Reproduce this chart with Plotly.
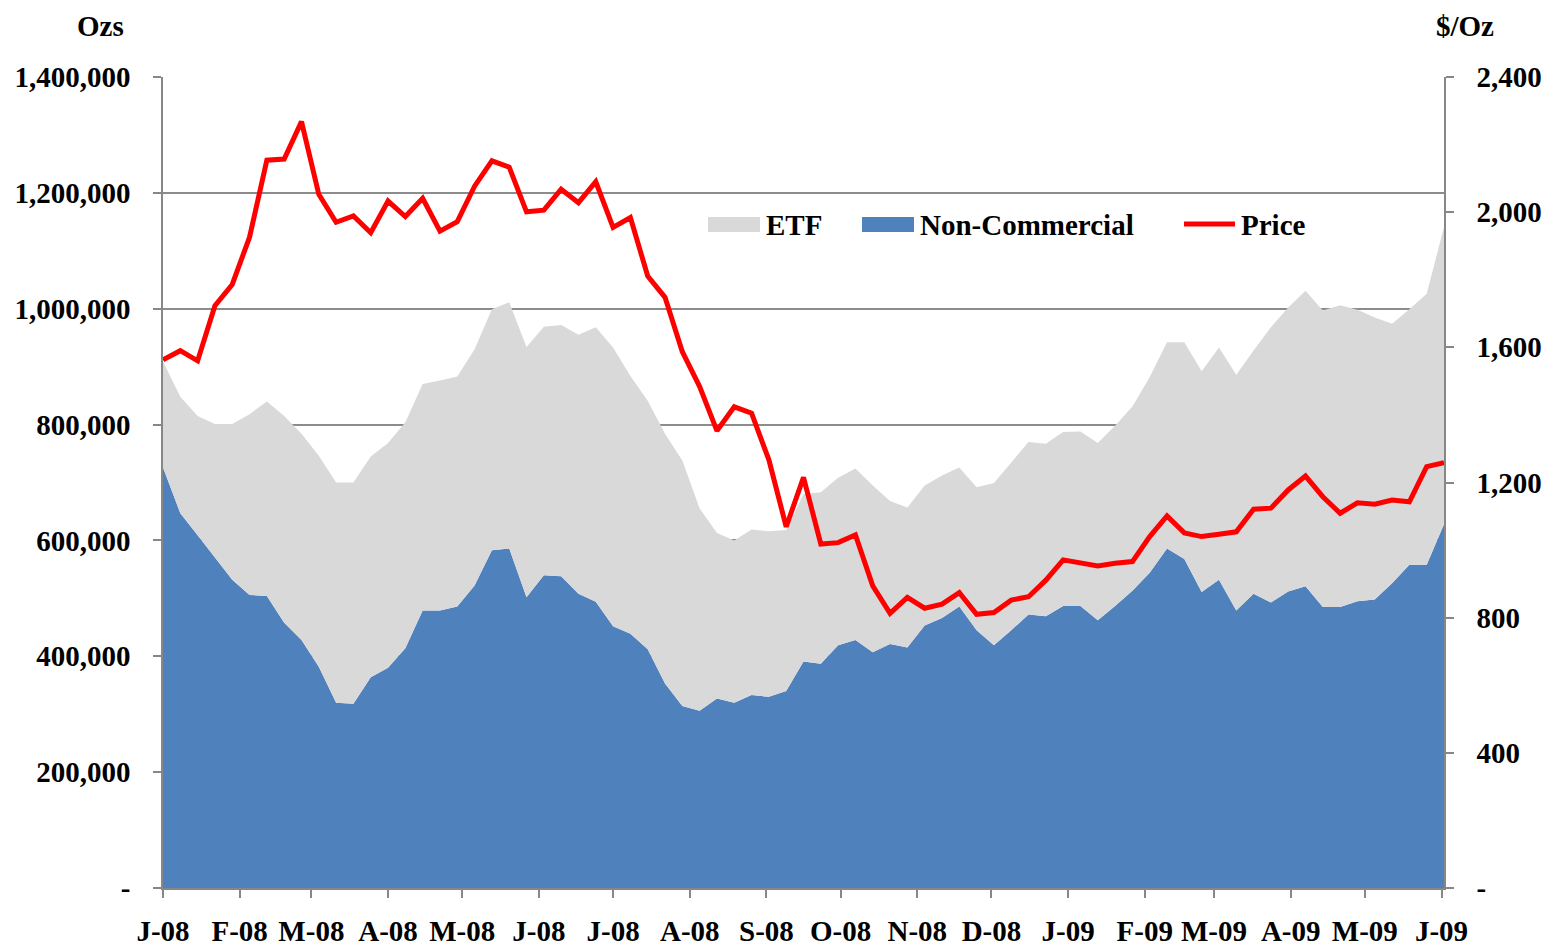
import plotly.graph_objects as go
import pandas as pd

# Weekly observations (Tuesdays) Jan 1 2008 - Jun 2 2009
dates = pd.date_range("2008-01-01", "2009-06-02", freq="7D")

non_commercial = [
    726000, 647000, 609000, 570000, 532000, 506000, 504000, 458000, 428000, 382000,
    320000, 318000, 364000, 380000, 414000, 479000, 479000, 486000, 522000, 583000,
    586000, 502000, 540000, 538000, 508000, 494000, 452000, 439000, 412000, 353000,
    314000, 306000, 327000, 320000, 333000, 330000, 340000, 391000, 387000, 419000,
    428000, 407000, 421000, 415000, 453000, 466000, 486000, 445000, 419000, 445000,
    472000, 469000, 487000, 487000, 462000, 487000, 513000, 544000, 586000, 568000,
    511000, 532000, 479000, 508000, 493000, 512000, 521000, 485000, 485000, 495000,
    498000, 526000, 558000, 558000, 628000,
]

etf = [
    183000, 201000, 206000, 231000, 269000, 312000, 336000, 357000, 356000, 364000,
    380000, 382000, 381000, 388000, 390000, 391000, 397000, 397000, 408000, 416000,
    425000, 432000, 429000, 434000, 447000, 474000, 481000, 445000, 429000, 431000,
    424000, 349000, 286000, 280000, 286000, 286000, 278000, 289000, 296000, 289000,
    296000, 288000, 247000, 242000, 242000, 246000, 240000, 247000, 280000, 290000,
    298000, 298000, 300000, 301000, 306000, 311000, 318000, 338000, 356000, 374000,
    381000, 401000, 407000, 420000, 475000, 490000, 510000, 512000, 521000, 503000,
    487000, 448000, 441000, 468000, 513000,
]

price = [
    1563, 1590, 1560, 1723, 1786, 1926, 2154, 2157, 2268, 2053,
    1970, 1989, 1939, 2033, 1987, 2041, 1944, 1972, 2077, 2152,
    2133, 2001, 2006, 2068, 2028, 2090, 1955, 1984, 1811, 1748,
    1587, 1484, 1353, 1424, 1405, 1267, 1069, 1215, 1018, 1022,
    1045, 894, 813, 860, 828, 840, 874, 810, 815, 852,
    862, 911, 971, 961, 953, 961, 966, 1040, 1101, 1051,
    1040, 1047, 1054, 1121, 1124, 1178, 1219, 1158, 1109, 1140,
    1136, 1148, 1143, 1247, 1259,
]

x_tick_dates = pd.date_range("2008-01-01", "2009-06-01", freq="MS")
x_tick_labels = ["J-08", "F-08", "M-08", "A-08", "M-08", "J-08", "J-08", "A-08", "S-08",
                 "O-08", "N-08", "D-08", "J-09", "F-09", "M-09", "A-09", "M-09", "J-09"]

y_left_vals = [0, 200000, 400000, 600000, 800000, 1000000, 1200000, 1400000]
y_left_text = ["-", "200,000", "400,000", "600,000", "800,000", "1,000,000", "1,200,000", "1,400,000"]
y_right_vals = [0, 400, 800, 1200, 1600, 2000, 2400]
y_right_text = ["-", "400", "800", "1,200", "1,600", "2,000", "2,400"]

FONT = "Liberation Serif, Times New Roman, serif"
FS = 29
AXIS_GREY = "#878787"
BLUE = "#4F81BD"
GREY = "#D9D9D9"
RED = "#FF0000"

# page-pixel -> paper helpers (plot area spans x 163..1444, y 77..888 on the page)
PX0, PX1, PY0, PY1 = 163, 1444, 77, 888


def px(x):
    return (x - PX0) / (PX1 - PX0)


def py(y):
    return (PY1 - y) / (PY1 - PY0)


fig = go.Figure()
fig.add_trace(go.Scatter(
    x=dates, y=non_commercial, name="Non-Commercial", stackgroup="pos",
    mode="lines", line=dict(width=0, color=BLUE), fillcolor=BLUE,
))
fig.add_trace(go.Scatter(
    x=dates, y=etf, name="ETF", stackgroup="pos",
    mode="lines", line=dict(width=0, color=GREY), fillcolor=GREY,
))
fig.add_trace(go.Scatter(
    x=dates, y=price, name="Price", yaxis="y2", mode="lines",
    line=dict(color=RED, width=5),
))

tickfont = dict(family=FONT, size=FS, color="black", weight="bold")

legend_shapes = [
    dict(type="rect", xref="paper", yref="paper", x0=px(708), x1=px(760), y0=py(232), y1=py(217),
         fillcolor=GREY, line=dict(width=0)),
    dict(type="rect", xref="paper", yref="paper", x0=px(862), x1=px(914), y0=py(232), y1=py(217),
         fillcolor=BLUE, line=dict(width=0)),
    dict(type="line", xref="paper", yref="paper", x0=px(1184), x1=px(1235), y0=py(224), y1=py(224),
         line=dict(color=RED, width=5)),
]


def label(text, x, y, anchor="left", yanchor="middle"):
    return dict(text=text, xref="paper", yref="paper", x=px(x), y=py(y),
                xanchor=anchor, yanchor=yanchor, showarrow=False, borderpad=0,
                font=dict(family=FONT, size=FS, color="black", weight="bold"))


fig.update_layout(
    width=1548, height=939,
    margin=dict(l=155, r=112, t=69, b=59, autoexpand=False),
    paper_bgcolor="white", plot_bgcolor="white",
    font=dict(family=FONT, size=FS, color="black", weight="bold"),
    showlegend=False,
    xaxis=dict(
        type="date", range=[dates[0], dates[-1]], automargin=False,
        tickmode="array", tickvals=x_tick_dates, ticktext=x_tick_labels,
        showgrid=False, showline=True, linecolor=AXIS_GREY, linewidth=1.5,
        ticks="outside", ticklen=8, tickcolor=AXIS_GREY, tickwidth=1.5,
        tickfont=tickfont, ticklabelstandoff=8, zeroline=False,
    ),
    yaxis=dict(
        range=[0, 1400000], automargin=False,
        tickmode="array", tickvals=y_left_vals, ticktext=y_left_text,
        showgrid=True, gridcolor="#8C8C8C", gridwidth=1.5,
        showline=True, linecolor=AXIS_GREY, linewidth=1.5,
        ticks="outside", ticklen=8, tickcolor=AXIS_GREY, tickwidth=1.5,
        tickfont=tickfont, ticklabelstandoff=17, zeroline=False,
    ),
    yaxis2=dict(
        range=[0, 2400], overlaying="y", side="right", automargin=False,
        tickmode="array", tickvals=y_right_vals, ticktext=y_right_text,
        showgrid=False, showline=True, linecolor=AXIS_GREY, linewidth=1.5,
        ticks="outside", ticklen=8, tickcolor=AXIS_GREY, tickwidth=1.5,
        tickfont=tickfont, ticklabelstandoff=17, zeroline=False,
    ),
    shapes=legend_shapes,
    annotations=[
        label("Ozs", 100, 8.5, "center", "top"),
        label("$/Oz", 1465, 8.5, "center", "top"),
        label("ETF", 765, 225),
        label("Non-Commercial", 919, 225),
        label("Price", 1240, 225),
    ],
)

fig.write_html("out.html")
